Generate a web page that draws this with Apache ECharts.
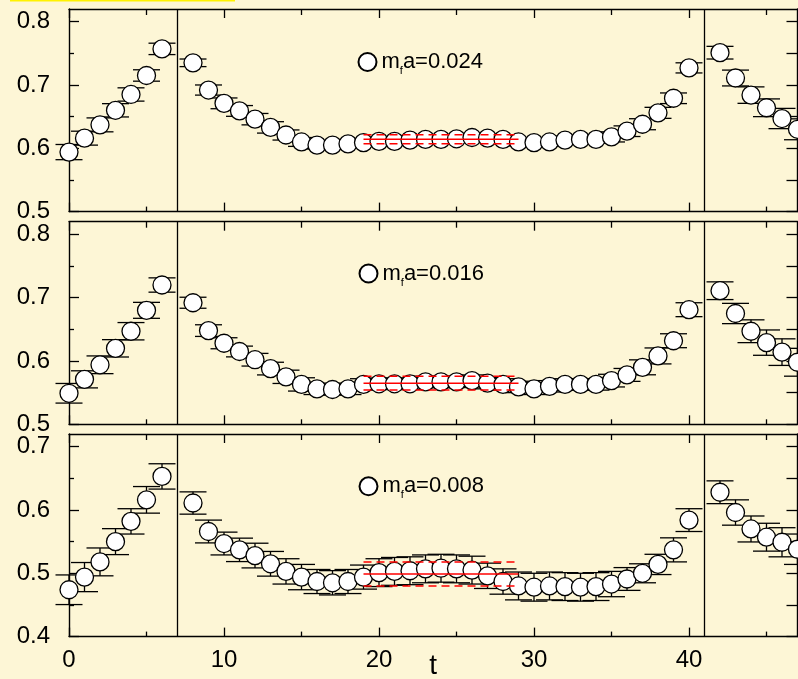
<!DOCTYPE html>
<html>
<head>
<meta charset="utf-8">
<script src="https://cdn.jsdelivr.net/npm/echarts@6/dist/echarts.min.js"></script>
<style>
  html, body { margin: 0; padding: 0; background: #FDF6D6; }
  #chart { width: 798px; height: 679px; }
</style>
</head>
<body>
<div id="chart"></div>
<script>
// Time slices (t = 7 and t = 41 are boundary positions without data)
const tValues = [0, 1, 2, 3, 4, 5, 6,
  8, 9, 10, 11, 12, 13, 14, 15, 16, 17, 18, 19, 20, 21, 22, 23, 24,
  25, 26, 27, 28, 29, 30, 31, 32, 33, 34, 35, 36, 37, 38, 39, 40,
  42, 43, 44, 45, 46, 47];

const massLabels = ['0.024', '0.016', '0.008'];

// m_f a = 0.024
const mass024 = [0.594, 0.616, 0.637, 0.660, 0.685, 0.715, 0.757,
  0.735, 0.692, 0.671, 0.659, 0.646, 0.633, 0.621, 0.610, 0.605, 0.605, 0.607, 0.609, 0.611, 0.611, 0.613, 0.614, 0.614,
  0.615, 0.617, 0.616, 0.614, 0.610, 0.609, 0.610, 0.613, 0.614, 0.614, 0.618, 0.627, 0.638, 0.656, 0.679, 0.727,
  0.751, 0.711, 0.684, 0.664, 0.647, 0.630];
const err024 = [0.012, 0.011, 0.011, 0.0105, 0.0105, 0.009, 0.009,
  0.006, 0.008, 0.0085, 0.0085, 0.009, 0.009, 0.008, 0.007, 0.006, 0.006, 0.006, 0.006, 0.006, 0.006, 0.006, 0.006, 0.006,
  0.006, 0.006, 0.006, 0.006, 0.006, 0.006, 0.006, 0.006, 0.006, 0.006, 0.008, 0.0084, 0.0087, 0.0087, 0.0084, 0.008,
  0.010, 0.0125, 0.013, 0.014, 0.016, 0.0165];

// m_f a = 0.016
const mass016 = [0.549, 0.571, 0.594, 0.620, 0.647, 0.680, 0.720,
  0.692, 0.648, 0.628, 0.615, 0.602, 0.588, 0.575, 0.563, 0.556, 0.555, 0.556, 0.563, 0.564, 0.564, 0.564, 0.567, 0.567,
  0.567, 0.569, 0.565, 0.563, 0.559, 0.556, 0.560, 0.563, 0.563, 0.563, 0.569, 0.578, 0.590, 0.608, 0.632, 0.681,
  0.711, 0.675, 0.647, 0.629, 0.614, 0.598];
const err016 = [0.0155, 0.0135, 0.014, 0.0137, 0.0137, 0.0126, 0.0113,
  0.0087, 0.0092, 0.0087, 0.0085, 0.010, 0.010, 0.0105, 0.0105, 0.009, 0.009, 0.009, 0.009, 0.009, 0.009, 0.009, 0.009, 0.009,
  0.009, 0.009, 0.009, 0.009, 0.009, 0.009, 0.009, 0.009, 0.009, 0.009, 0.010, 0.0102, 0.0118, 0.0126, 0.011, 0.011,
  0.014, 0.016, 0.018, 0.020, 0.021, 0.022];

// m_f a = 0.008
const mass008 = [0.474, 0.494, 0.518, 0.550, 0.582, 0.616, 0.653,
  0.611, 0.566, 0.547, 0.537, 0.528, 0.515, 0.503, 0.494, 0.487, 0.485, 0.487, 0.494, 0.501, 0.503, 0.504, 0.507, 0.508,
  0.507, 0.505, 0.496, 0.487, 0.480, 0.478, 0.480, 0.479, 0.478, 0.479, 0.483, 0.491, 0.500, 0.514, 0.537, 0.584,
  0.628, 0.596, 0.570, 0.557, 0.549, 0.538];
const err008 = [0.0234, 0.023, 0.022, 0.0205, 0.020, 0.021, 0.020,
  0.0176, 0.018, 0.018, 0.0185, 0.0195, 0.0195, 0.020, 0.020, 0.019, 0.0192, 0.019, 0.019, 0.022, 0.022, 0.022, 0.022, 0.022,
  0.022, 0.022, 0.020, 0.020, 0.022, 0.022, 0.022, 0.022, 0.022, 0.022, 0.020, 0.018, 0.015, 0.016, 0.019, 0.018,
  0.018, 0.020, 0.0205, 0.022, 0.023, 0.024];

// Plateau fits (central value and error) over the fit window
const fitValue = [0.6142, 0.565, 0.499];
const fitError = [0.0072, 0.011, 0.019];
const fitRange = [19, 29];

// Boundary positions drawn as vertical lines
const boundaries = [7, 41];

// Axis ranges and tick positions
const xRange = [0, 47];
const xMajor = [0, 10, 20, 30, 40];
const xMinor = [5, 15, 25, 35, 45];
const yRanges = [[0.5, 0.82], [0.5, 0.82], [0.4, 0.72]];
const yMajor = [[0.5, 0.6, 0.7, 0.8], [0.5, 0.6, 0.7, 0.8], [0.4, 0.5, 0.6, 0.7]];
const yMinor = [[0.55, 0.65, 0.75], [0.55, 0.65, 0.75], [0.45, 0.55, 0.65]];

const panels = [
  { mass: mass024, err: err024 },
  { mass: mass016, err: err016 },
  { mass: mass008, err: err008 }
];

const FONT = '"Liberation Sans", Arial, Helvetica, sans-serif';
const INK = '#000';
const gridTops = [9, 221.7, 434];
const gridHeight = 202.6;
const legendPos = [[357.5, 51], [358.5, 262.5], [358.5, 475.3]];

const chart = echarts.init(document.getElementById('chart'), null, { renderer: 'canvas' });

const grids = [], xAxes = [], yAxes = [], series = [], legends = [];

panels.forEach((p, i) => {
  grids.push({ left: 69, top: gridTops[i], width: 728.5, height: gridHeight,
    containLabel: false, outerBoundsMode: 'none' });
  const base = i * 4;
  const lineStyle = { color: INK, width: 1.4 };
  const isBottom = i === panels.length - 1;

  // x axes: bottom major (labels), bottom minor, top major, top minor
  xAxes.push({
    type: 'value', gridIndex: i, min: xRange[0], max: xRange[1], position: 'bottom',
    axisLine: { show: true, onZero: false, lineStyle },
    axisTick: { show: true, inside: true, length: 9, customValues: xMajor, lineStyle: { color: INK, width: 1.3 } },
    axisLabel: { show: isBottom, customValues: xMajor, fontSize: 24, fontFamily: FONT, color: INK, margin: 12 },
    splitLine: { show: false },
    name: isBottom ? 't' : '', nameLocation: 'middle', nameGap: 16, nameMoveOverlap: false,
    nameTextStyle: { fontSize: 28, fontFamily: FONT, color: INK, verticalAlign: 'top' }
  });
  xAxes.push({
    type: 'value', gridIndex: i, min: xRange[0], max: xRange[1], position: 'bottom',
    axisLine: { show: false, onZero: false },
    axisTick: { show: true, inside: true, length: 5, customValues: xMinor, lineStyle: { color: INK, width: 1.3 } },
    axisLabel: { show: false }, splitLine: { show: false }
  });
  xAxes.push({
    type: 'value', gridIndex: i, min: xRange[0], max: xRange[1], position: 'top',
    axisLine: { show: true, onZero: false, lineStyle },
    axisTick: { show: true, inside: true, length: 9, customValues: xMajor, lineStyle: { color: INK, width: 1.3 } },
    axisLabel: { show: false }, splitLine: { show: false }
  });
  xAxes.push({
    type: 'value', gridIndex: i, min: xRange[0], max: xRange[1], position: 'top',
    axisLine: { show: false, onZero: false },
    axisTick: { show: true, inside: true, length: 6, customValues: xMinor, lineStyle: { color: INK, width: 1.3 } },
    axisLabel: { show: false }, splitLine: { show: false }
  });

  // y axes: left major (labels), left minor, right major, right minor
  const yr = yRanges[i];
  yAxes.push({
    type: 'value', gridIndex: i, min: yr[0], max: yr[1], position: 'left',
    axisLine: { show: true, onZero: false, lineStyle },
    axisTick: { show: true, inside: true, length: 10, customValues: yMajor[i], lineStyle: { color: INK, width: 1.3 } },
    axisLabel: { show: true, customValues: yMajor[i], fontSize: 24, fontFamily: FONT, color: INK, margin: 19,
      formatter: v => v.toFixed(1) },
    splitLine: { show: false }
  });
  yAxes.push({
    type: 'value', gridIndex: i, min: yr[0], max: yr[1], position: 'left',
    axisLine: { show: false, onZero: false },
    axisTick: { show: true, inside: true, length: 5, customValues: yMinor[i], lineStyle: { color: INK, width: 1.3 } },
    axisLabel: { show: false }, splitLine: { show: false }
  });
  yAxes.push({
    type: 'value', gridIndex: i, min: yr[0], max: yr[1], position: 'right',
    axisLine: { show: true, onZero: false, lineStyle },
    axisTick: { show: true, inside: true, length: 11, customValues: yMajor[i], lineStyle: { color: INK, width: 1.3 } },
    axisLabel: { show: false }, splitLine: { show: false }
  });
  yAxes.push({
    type: 'value', gridIndex: i, min: yr[0], max: yr[1], position: 'right',
    axisLine: { show: false, onZero: false },
    axisTick: { show: true, inside: true, length: 11, customValues: yMinor[i], lineStyle: { color: INK, width: 1.3 } },
    axisLabel: { show: false }, splitLine: { show: false }
  });

  const name = massLabels[i];
  const points = tValues.map((t, k) => [t, p.mass[k]]);
  const bars = tValues.map((t, k) => [t, p.mass[k] - p.err[k], p.mass[k] + p.err[k]]);

  // Error bars with horizontal caps
  series.push({
    type: 'custom', xAxisIndex: base, yAxisIndex: base, z: 2, silent: true,
    data: bars,
    renderItem: (params, api) => {
      const x = api.value(0);
      const lo = api.coord([x, api.value(1)]);
      const hi = api.coord([x, api.value(2)]);
      const half = 13.5;
      const style = { stroke: INK, lineWidth: 1.3, fill: null };
      return {
        type: 'group',
        children: [
          { type: 'line', shape: { x1: hi[0], y1: hi[1], x2: lo[0], y2: lo[1] }, style },
          { type: 'line', shape: { x1: hi[0] - half, y1: hi[1], x2: hi[0] + half, y2: hi[1] }, style },
          { type: 'line', shape: { x1: lo[0] - half, y1: lo[1], x2: lo[0] + half, y2: lo[1] }, style }
        ]
      };
    }
  });

  // Data points
  series.push({
    type: 'scatter', name, xAxisIndex: base, yAxisIndex: base, z: 3,
    symbol: 'circle', symbolSize: 18,
    itemStyle: { color: '#fff', borderColor: INK, borderWidth: 1.3, opacity: 1 },
    emphasis: { disabled: true },
    data: points,
    markLine: {
      silent: true, symbol: 'none', animation: false,
      label: { show: false },
      lineStyle: { color: INK, width: 1.3, type: 'solid' },
      data: boundaries.map(b => ({ xAxis: b }))
    }
  });

  // Plateau fit: central value (solid) and error band edges (dashed)
  const fitLine = (v, dashed) => ({
    type: 'line', xAxisIndex: base, yAxisIndex: base, z: 5, silent: true,
    symbol: 'none', animation: false,
    lineStyle: { color: '#FF0000', width: 1.5, type: dashed ? [8, 5] : 'solid' },
    data: [[fitRange[0], v], [fitRange[1], v]]
  });
  series.push(fitLine(fitValue[i], false));
  series.push(fitLine(fitValue[i] + fitError[i], true));
  series.push(fitLine(fitValue[i] - fitError[i], true));

  legends.push({
    data: [name], left: legendPos[i][0], top: legendPos[i][1], padding: 0,
    itemWidth: 18, itemHeight: 18, icon: 'circle', selectedMode: false,
    formatter: n => '{m|m}{s|f}{m|a=' + n + '}',
    textStyle: {
      color: INK, fontFamily: FONT, fontSize: 22,
      rich: {
        m: { fontSize: 22, fontFamily: FONT, color: INK },
        s: { fontSize: 11, fontFamily: FONT, color: INK, padding: [18, 0, 0, 0] }
      }
    }
  });
});

chart.setOption({
  backgroundColor: '#FDF6D6',
  animation: false,
  grid: grids,
  xAxis: xAxes,
  yAxis: yAxes,
  legend: legends,
  series,
  graphic: [
    { type: 'rect', left: 10, top: 0, shape: { width: 225, height: 1.5 }, style: { fill: '#FFF200' }, silent: true }
  ]
});
</script>
</body>
</html>
